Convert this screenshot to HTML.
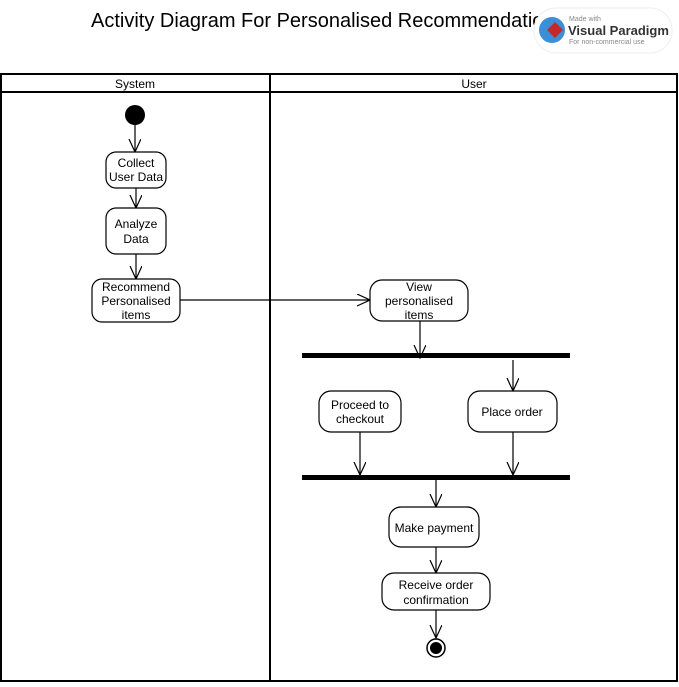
<!DOCTYPE html>
<html><head><style>body{margin:0;background:#fff}</style></head><body>
<svg width="679" height="682" xmlns="http://www.w3.org/2000/svg" font-family="Liberation Sans, Arial, sans-serif">
<defs><marker id="a" markerWidth="14" markerHeight="14" refX="13" refY="6" orient="auto" markerUnits="userSpaceOnUse"><path d="M0,0 L13,6 L0,12" fill="none" stroke="#000" stroke-width="1.2"/></marker></defs>
<text x="91" y="27" font-size="20" fill="#000">Activity Diagram For Personalised Recommendation</text>
<rect x="534" y="8" width="138" height="45" rx="22" fill="#fff" stroke="#eee"/>
<circle cx="552" cy="30" r="13" fill="#3a8fd6"/><path d="M547,30 l8,-8 l8,8 l-8,8z" fill="#c62828"/>
<text x="569" y="21" font-size="7" fill="#888">Made with</text>
<text x="568" y="35" font-size="13" font-weight="bold" fill="#333">Visual Paradigm</text>
<text x="569" y="44" font-size="7" fill="#888">For non-commercial use</text>
<g stroke="#000" stroke-width="2" fill="none">
<rect x="1" y="74" width="676" height="607"/>
<line x1="1" y1="92" x2="677" y2="92"/>
<line x1="270" y1="74" x2="270" y2="681"/>
</g>
<text x="135" y="88" font-size="12" text-anchor="middle">System</text>
<text x="474" y="88" font-size="12" text-anchor="middle">User</text>
<g stroke="#000" stroke-width="1.2" fill="none" marker-end="url(#a)">
<line x1="135" y1="125" x2="135" y2="152"/>
<line x1="136" y1="188" x2="136" y2="208"/>
<line x1="136" y1="254" x2="136" y2="279"/>
<line x1="180" y1="300" x2="370" y2="300"/>
<line x1="420" y1="321" x2="420" y2="358"/>
<line x1="513" y1="360" x2="513" y2="391"/>
<line x1="360" y1="432" x2="360" y2="475"/>
<line x1="513" y1="432" x2="513" y2="475"/>
<line x1="436" y1="480" x2="436" y2="507"/>
<line x1="436" y1="547" x2="436" y2="573"/>
<line x1="436" y1="610" x2="436" y2="638"/>
</g>
<circle cx="135" cy="115" r="10" fill="#000"/>
<circle cx="436" cy="648" r="9" fill="#fff" stroke="#000" stroke-width="1.5"/><circle cx="436" cy="648" r="6" fill="#000"/>
<rect x="302" y="353" width="268" height="5" fill="#000"/>
<rect x="302" y="475" width="268" height="5" fill="#000"/>
<g stroke="#000" stroke-width="1.2" fill="#fff">
<rect x="106" y="152" width="60" height="36" rx="10"/>
<rect x="106" y="208" width="60" height="46" rx="10"/>
<rect x="92" y="279" width="88" height="43" rx="10"/>
<rect x="370" y="280" width="98" height="41" rx="12"/>
<rect x="319" y="391" width="82" height="41" rx="12"/>
<rect x="468" y="391" width="89" height="41" rx="12"/>
<rect x="389" y="507" width="90" height="40" rx="12"/>
<rect x="382" y="573" width="108" height="37" rx="12"/>
</g>
<g font-size="12" text-anchor="middle" fill="#000">
<text x="136" y="167">Collect</text><text x="136" y="181">User Data</text>
<text x="136" y="228">Analyze</text><text x="136" y="243">Data</text>
<text x="136" y="291">Recommend</text><text x="136" y="305">Personalised</text><text x="136" y="319">items</text>
<text x="419" y="291">View</text><text x="419" y="305">personalised</text><text x="419" y="319">items</text>
<text x="360" y="409">Proceed to</text><text x="360" y="423">checkout</text>
<text x="512" y="416">Place order</text>
<text x="434" y="532">Make payment</text>
<text x="436" y="589">Receive order</text><text x="436" y="604">confirmation</text>
</g>
</svg>
</body></html>
